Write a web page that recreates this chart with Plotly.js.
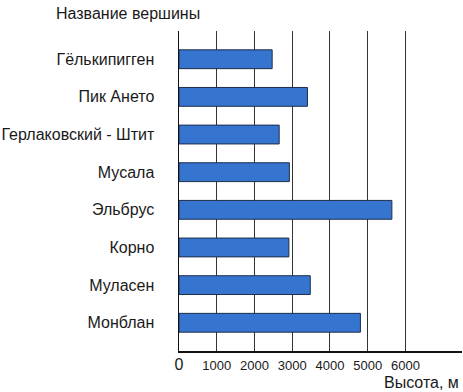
<!DOCTYPE html>
<html><head><meta charset="utf-8">
<script src="https://cdn.plot.ly/plotly-3.0.1.min.js"></script>
<style>html,body{margin:0;padding:0;background:#fff}#chart{width:463px;height:392px}</style>
</head><body><div id="chart"></div>
<script>
const peaks = ['Гёлькипигген','Пик Ането','Герлаковский - Штит','Мусала','Эльбрус','Корно','Муласен','Монблан'];
const heights = [2469, 3404, 2655, 2925, 5642, 2912, 3479, 4808];
const tickValues = [0, 1000, 2000, 3000, 4000, 5000, 6000];
const tickLabels = ['<span style="font-size:16px">0</span>','1000','2000','3000','4000','5000','6000'];
const yTitle = 'Название вершины';
const xTitle = 'Высота, м';

const font = 'Liberation Sans, Arial, sans-serif';
Plotly.newPlot('chart', [{
  type: 'bar', orientation: 'h',
  x: heights, y: peaks, width: 0.5,
  marker: {color: '#3575D0', line: {color: '#1E2E48', width: 1}},
  hoverinfo: 'none'
}], {
  width: 463, height: 392,
  margin: {l: 179, r: 1, t: 31, b: 41},
  paper_bgcolor: '#fff', plot_bgcolor: '#fff',
  showlegend: false,
  font: {family: font, color: '#1a1a1a', size: 16},
  xaxis: {
    range: [0, 7500], tickvals: tickValues, ticktext: tickLabels,
    showgrid: true, gridcolor: '#333', gridwidth: 1,
    showline: true, linecolor: '#111', linewidth: 1.5,
    zeroline: false, ticks: '',
    tickfont: {size: 13, family: font, color: '#1a1a1a'},
    ticklabelstandoff: 2
  },
  yaxis: {
    type: 'category', categoryorder: 'array', categoryarray: peaks,
    range: [7.75, -0.75],
    showgrid: false, showline: true, linecolor: '#111', linewidth: 1.5,
    zeroline: false, ticks: '',
    tickfont: {size: 16, family: font, color: '#1a1a1a'},
    ticklabelstandoff: 20
  },
  annotations: [
    {text: yTitle, xref: 'paper', yref: 'paper', x: -0.44, y: 1.056, xanchor: 'left', yanchor: 'middle', showarrow: false, font: {size: 16, family: font, color: '#1a1a1a'}},
    {text: xTitle, xref: 'paper', yref: 'paper', x: 0.995, y: -0.097, xanchor: 'right', yanchor: 'middle', showarrow: false, font: {size: 16, family: font, color: '#1a1a1a'}}
  ]
}, {displayModeBar: false, staticPlot: true});
</script></body></html>
